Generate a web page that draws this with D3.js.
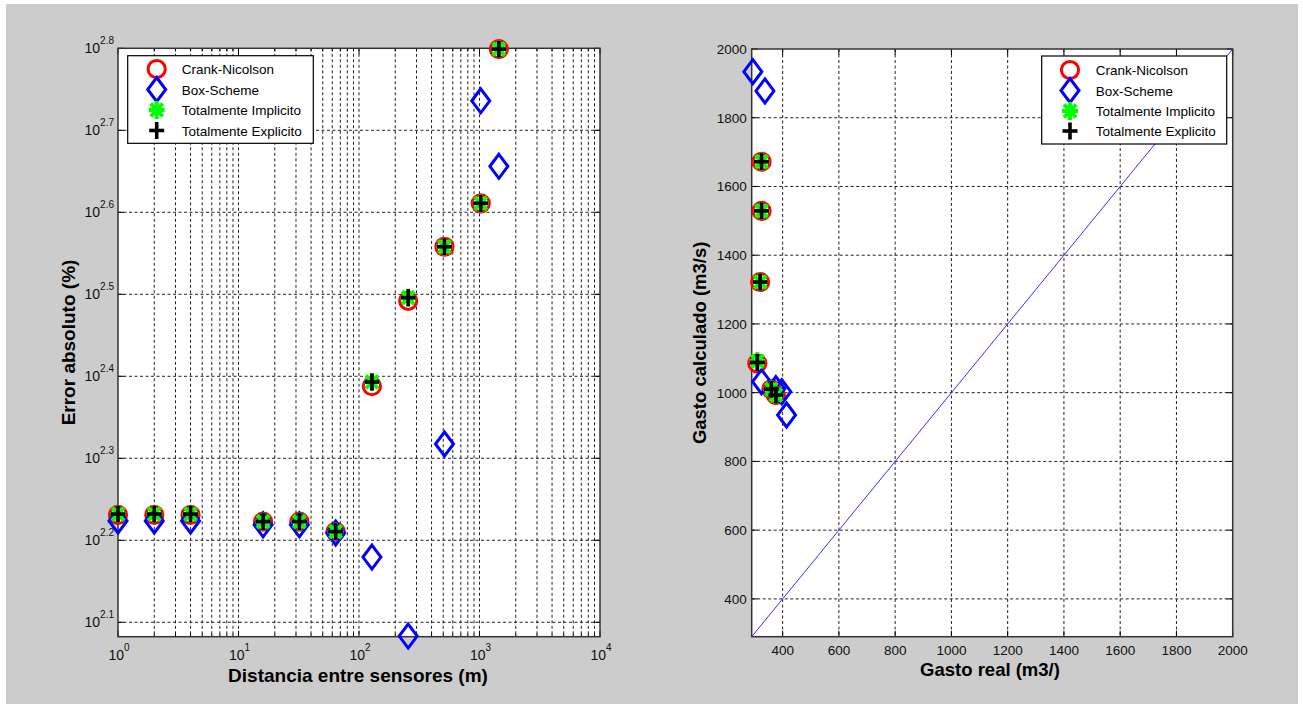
<!DOCTYPE html>
<html>
<head>
<meta charset="utf-8">
<script src="https://cdn.jsdelivr.net/npm/d3@7"></script>
<style>
  html, body { margin: 0; padding: 0; background: #ffffff; }
  svg { display: block; font-family: "Liberation Sans", Arial, sans-serif; }
</style>
</head>
<body>
<svg id="fig" width="1303" height="707"></svg>
<script>
// ---- Left panel: absolute error vs. sensor spacing (log-log) ----
const distancias = [1, 2, 4, 16, 32, 64, 128, 256, 512, 1024, 1448];
const errorCN    = [170.2, 170.2, 170.2, 167.0, 167.0, 162.4, 244.3, 310.5, 361.4, 408.3, 629.5];
const errorBox   = [167.3, 167.3, 167.3, 165.5, 165.5, 161.8, 151.2, 121.1, 207.7, 544.5, 452.9];
const errorTI    = [170.6, 170.6, 170.6, 167.0, 167.0, 162.4, 247.2, 313.2, 361.4, 408.3, 629.5];
const errorTE    = [170.6, 170.6, 170.6, 167.0, 167.0, 162.4, 247.2, 313.2, 361.4, 408.3, 629.5];
const xDecadas   = [0, 1, 2, 3, 4];
const yExponentes = ["2.1", "2.2", "2.3", "2.4", "2.5", "2.6", "2.7", "2.8"];

// ---- Right panel: computed vs. real discharge ----
const realCN  = [325, 325, 320, 310, 360, 376];
const calcCN  = [1672, 1529, 1322, 1085, 1010, 993];
const realBox = [294, 337, 325, 376, 397, 414];
const calcBox = [1934, 1878, 1032, 1012, 1003, 935];
const realTI  = [325, 325, 320, 310, 360, 376];
const calcTI  = [1672, 1529, 1322, 1092, 1010, 993];
const realTE  = [325, 325, 320, 310, 360, 376];
const calcTE  = [1672, 1529, 1322, 1088, 1010, 993];
const gastoTicks = [400, 600, 800, 1000, 1200, 1400, 1600, 1800, 2000];
const lineaIdeal = [290, 2000];

const leyenda = ["Crank-Nicolson", "Box-Scheme", "Totalmente Implicito", "Totalmente Explicito"];

const svg = d3.select("#fig");
svg.append("rect").attr("x", 6).attr("y", 4).attr("width", 1292).attr("height", 700).attr("fill", "#cccccc");

const GRID = { stroke: "#222", "stroke-width": 1, "stroke-dasharray": "3,2.5" };
function applyAttrs(sel, o) { for (const k in o) sel.attr(k, o[k]); return sel; }

// marker painters
function drawMarker(g, type, x, y) {
  if (type === 0) {
    g.append("circle").attr("cx", x).attr("cy", y).attr("r", 8.6)
      .attr("fill", "none").attr("stroke", "#ff0000").attr("stroke-width", 3);
  } else if (type === 1) {
    g.append("path").attr("d", `M${x},${y - 12}L${x + 9},${y}L${x},${y + 12}L${x - 9},${y}Z`)
      .attr("fill", "none").attr("stroke", "#0000ff").attr("stroke-width", 3).attr("stroke-linejoin", "miter");
  } else if (type === 2) {
    const a = g.append("g").attr("stroke", "#00ff00").attr("stroke-width", 4);
    a.append("line").attr("x1", x - 8).attr("x2", x + 8).attr("y1", y).attr("y2", y);
    a.append("line").attr("x1", x).attr("x2", x).attr("y1", y - 9).attr("y2", y + 9);
    a.append("line").attr("x1", x - 6).attr("x2", x + 6).attr("y1", y - 6.5).attr("y2", y + 6.5);
    a.append("line").attr("x1", x - 6).attr("x2", x + 6).attr("y1", y + 6.5).attr("y2", y - 6.5);
  } else {
    const a = g.append("g").attr("stroke", "#000").attr("stroke-width", 3.6);
    a.append("line").attr("x1", x - 7.5).attr("x2", x + 7.5).attr("y1", y).attr("y2", y);
    a.append("line").attr("x1", x).attr("x2", x).attr("y1", y - 8.5).attr("y2", y + 8.5);
  }
}

function drawLegend(x0, y0, w, h, mx, tx, rows) {
  const g = svg.append("g");
  g.append("rect").attr("x", x0).attr("y", y0).attr("width", w).attr("height", h)
    .attr("fill", "#fff").attr("stroke", "#000").attr("stroke-width", 1.2);
  leyenda.forEach((t, i) => {
    drawMarker(g, i, mx, rows[i]);
    g.append("text").attr("x", tx).attr("y", rows[i] + 5).attr("font-size", 13.5).attr("fill", "#000").text(t);
  });
}

// ================= LEFT PANEL =================
{
  const L = { l: 118, t: 48.3, r: 600, b: 636.7 };
  const x = d3.scaleLog().domain([1, 10000]).range([L.l, L.r]);
  const y = d3.scaleLog().domain([Math.pow(10, 2.0824), Math.pow(10, 2.8)]).range([L.b, L.t]);
  const g = svg.append("g");
  g.append("rect").attr("x", L.l).attr("y", L.t).attr("width", L.r - L.l).attr("height", L.b - L.t).attr("fill", "#fff");

  const xMinor = [];
  for (let d = 0; d < 4; d++) for (let k = 2; k <= 9; k++) xMinor.push(k * Math.pow(10, d));
  const xMajor = xDecadas.map(d => Math.pow(10, d));
  const yMajor = yExponentes.map(e => Math.pow(10, +e));

  // grid
  xMinor.concat(xMajor.slice(1, -1)).forEach(v => {
    applyAttrs(g.append("line").attr("x1", x(v)).attr("x2", x(v)).attr("y1", L.t).attr("y2", L.b), GRID);
  });
  yMajor.slice(0, -1).forEach(v => {
    applyAttrs(g.append("line").attr("y1", y(v)).attr("y2", y(v)).attr("x1", L.l).attr("x2", L.r), GRID);
  });

  // ticks (inside, all four sides)
  const tk = g.append("g").attr("stroke", "#000").attr("stroke-width", 1);
  xMajor.forEach(v => {
    tk.append("line").attr("x1", x(v)).attr("x2", x(v)).attr("y1", L.b).attr("y2", L.b - 6);
    tk.append("line").attr("x1", x(v)).attr("x2", x(v)).attr("y1", L.t).attr("y2", L.t + 6);
  });
  xMinor.forEach(v => {
    tk.append("line").attr("x1", x(v)).attr("x2", x(v)).attr("y1", L.b).attr("y2", L.b - 3);
    tk.append("line").attr("x1", x(v)).attr("x2", x(v)).attr("y1", L.t).attr("y2", L.t + 3);
  });
  yMajor.forEach(v => {
    tk.append("line").attr("y1", y(v)).attr("y2", y(v)).attr("x1", L.l).attr("x2", L.l + 6);
    tk.append("line").attr("y1", y(v)).attr("y2", y(v)).attr("x1", L.r).attr("x2", L.r - 6);
  });

  // tick labels with exponents
  xDecadas.forEach(d => {
    const t = g.append("text").attr("x", x(Math.pow(10, d)) + 1).attr("y", 660)
      .attr("text-anchor", "middle").attr("font-size", 14).attr("fill", "#111");
    t.append("tspan").text("10");
    t.append("tspan").attr("font-size", 10).attr("dy", -9).text(d);
  });
  yExponentes.forEach(e => {
    const t = g.append("text").attr("x", 114).attr("y", y(Math.pow(10, +e)) + 5)
      .attr("text-anchor", "end").attr("font-size", 14).attr("fill", "#111");
    t.append("tspan").text("10");
    t.append("tspan").attr("font-size", 10).attr("dy", -9).text(e);
  });

  // frame
  g.append("rect").attr("x", L.l).attr("y", L.t).attr("width", L.r - L.l).attr("height", L.b - L.t)
    .attr("fill", "none").attr("stroke", "#333").attr("stroke-width", 1.5);

  // series
  const series = [errorCN, errorBox, errorTI, errorTE];
  series.forEach((vals, s) => {
    vals.forEach((v, i) => drawMarker(g, s, x(distancias[i]), y(v)));
  });

  // axis titles
  g.append("text").attr("x", 358).attr("y", 682).attr("text-anchor", "middle")
    .attr("font-size", 19).attr("font-weight", "bold").text("Distancia entre sensores (m)");
  g.append("text").attr("transform", `translate(75,${(L.t + L.b) / 2}) rotate(-90)`).attr("text-anchor", "middle")
    .attr("font-size", 19).attr("font-weight", "bold").text("Error absoluto (%)");

  drawLegend(127.7, 55.7, 185.6, 87.6, 156.7, 181.7, [69, 89.5, 110, 130.5]);
}

// ================= RIGHT PANEL =================
{
  const R = { l: 751.7, t: 49, r: 1232.7, b: 636.7 };
  const x = d3.scaleLinear().domain([290, 2000]).range([R.l, R.r]);
  const y = d3.scaleLinear().domain([290, 2000]).range([R.b, R.t]);
  const g = svg.append("g");
  g.append("rect").attr("x", R.l).attr("y", R.t).attr("width", R.r - R.l).attr("height", R.b - R.t).attr("fill", "#fff");

  gastoTicks.slice(0, -1).forEach(v => {
    applyAttrs(g.append("line").attr("x1", x(v)).attr("x2", x(v)).attr("y1", R.t).attr("y2", R.b), GRID);
    applyAttrs(g.append("line").attr("y1", y(v)).attr("y2", y(v)).attr("x1", R.l).attr("x2", R.r), GRID);
  });
  const tk = g.append("g").attr("stroke", "#000").attr("stroke-width", 1);
  gastoTicks.forEach(v => {
    tk.append("line").attr("x1", x(v)).attr("x2", x(v)).attr("y1", R.b).attr("y2", R.b - 6);
    tk.append("line").attr("x1", x(v)).attr("x2", x(v)).attr("y1", R.t).attr("y2", R.t + 6);
    tk.append("line").attr("y1", y(v)).attr("y2", y(v)).attr("x1", R.l).attr("x2", R.l + 6);
    tk.append("line").attr("y1", y(v)).attr("y2", y(v)).attr("x1", R.r).attr("x2", R.r - 6);
  });
  gastoTicks.forEach(v => {
    g.append("text").attr("x", x(v)).attr("y", 655).attr("text-anchor", "middle")
      .attr("font-size", 13.5).attr("fill", "#111").text(v);
    g.append("text").attr("x", R.l - 5).attr("y", y(v) + 5).attr("text-anchor", "end")
      .attr("font-size", 13.5).attr("fill", "#111").text(v);
  });

  // ideal line: computed = real
  g.append("line").attr("x1", x(lineaIdeal[0])).attr("y1", y(lineaIdeal[0]))
    .attr("x2", x(lineaIdeal[1])).attr("y2", y(lineaIdeal[1]))
    .attr("stroke", "#3030ff").attr("stroke-width", 1);

  g.append("rect").attr("x", R.l).attr("y", R.t).attr("width", R.r - R.l).attr("height", R.b - R.t)
    .attr("fill", "none").attr("stroke", "#333").attr("stroke-width", 1.5);

  const series = [[realCN, calcCN], [realBox, calcBox], [realTI, calcTI], [realTE, calcTE]];
  series.forEach(([xs, ys], s) => {
    xs.forEach((v, i) => drawMarker(g, s, x(v), y(ys[i])));
  });

  g.append("text").attr("x", 990).attr("y", 676).attr("text-anchor", "middle")
    .attr("font-size", 18.5).attr("font-weight", "bold").text("Gasto real (m3/)");
  g.append("text").attr("transform", `translate(706,${(R.t + R.b) / 2}) rotate(-90)`).attr("text-anchor", "middle")
    .attr("font-size", 18.5).attr("font-weight", "bold").text("Gasto calculado (m3/s)");

  drawLegend(1041.7, 56, 185, 88, 1070, 1095.7, [70, 90.5, 111, 131]);
}
</script>
</body>
</html>
